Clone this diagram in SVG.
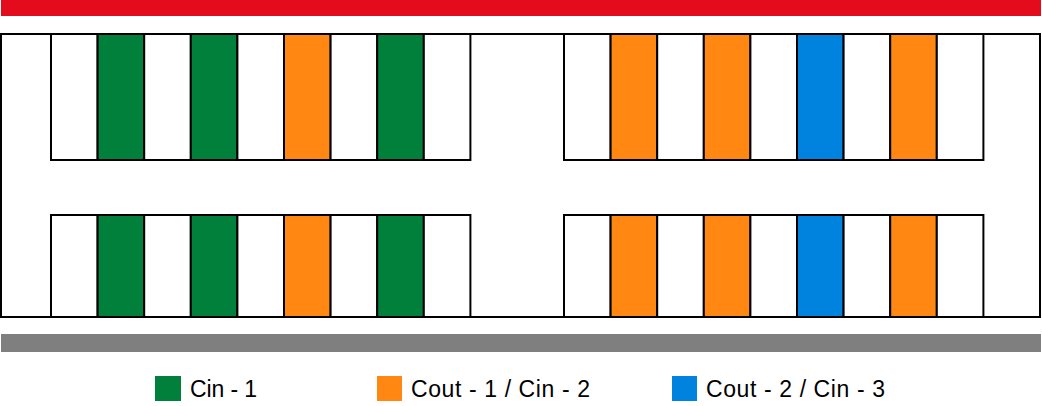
<svg xmlns="http://www.w3.org/2000/svg" width="1042" height="406" viewBox="0 0 1042 406">
<style>
.c{stroke:#000;stroke-width:2;fill:#fff}
.g{fill:#00803a}
.o{fill:#ff8712}
.b{fill:#0083df}
.t{font-family:"Liberation Sans",Arial,sans-serif;font-size:23px;fill:#000}
</style>
<rect width="1042" height="406" fill="#fff"/>
<g id="topbar"><rect x="1" y="0" width="1040" height="16" fill="#e30b1c"/></g>
<g id="frame"><rect class="c" x="1" y="34" width="1039" height="283"/></g>
<g id="block-tl">
<rect class="c" x="51" y="34" width="46.6" height="126"/>
<rect class="c g" x="97.6" y="34" width="46.6" height="126"/>
<rect class="c" x="144.2" y="34" width="46.6" height="126"/>
<rect class="c g" x="190.8" y="34" width="46.6" height="126"/>
<rect class="c" x="237.4" y="34" width="46.6" height="126"/>
<rect class="c o" x="284" y="34" width="46.6" height="126"/>
<rect class="c" x="330.6" y="34" width="46.6" height="126"/>
<rect class="c g" x="377.2" y="34" width="46.6" height="126"/>
<rect class="c" x="423.8" y="34" width="46.6" height="126"/>
</g>
<g id="block-bl">
<rect class="c" x="51" y="215" width="46.6" height="102"/>
<rect class="c g" x="97.6" y="215" width="46.6" height="102"/>
<rect class="c" x="144.2" y="215" width="46.6" height="102"/>
<rect class="c g" x="190.8" y="215" width="46.6" height="102"/>
<rect class="c" x="237.4" y="215" width="46.6" height="102"/>
<rect class="c o" x="284" y="215" width="46.6" height="102"/>
<rect class="c" x="330.6" y="215" width="46.6" height="102"/>
<rect class="c g" x="377.2" y="215" width="46.6" height="102"/>
<rect class="c" x="423.8" y="215" width="46.6" height="102"/>
</g>
<g id="block-tr">
<rect class="c" x="564" y="34" width="46.6" height="126"/>
<rect class="c o" x="610.6" y="34" width="46.6" height="126"/>
<rect class="c" x="657.2" y="34" width="46.6" height="126"/>
<rect class="c o" x="703.8" y="34" width="46.6" height="126"/>
<rect class="c" x="750.4" y="34" width="46.6" height="126"/>
<rect class="c b" x="797" y="34" width="46.6" height="126"/>
<rect class="c" x="843.6" y="34" width="46.6" height="126"/>
<rect class="c o" x="890.2" y="34" width="46.6" height="126"/>
<rect class="c" x="936.8" y="34" width="46.6" height="126"/>
</g>
<g id="block-br">
<rect class="c" x="564" y="215" width="46.6" height="102"/>
<rect class="c o" x="610.6" y="215" width="46.6" height="102"/>
<rect class="c" x="657.2" y="215" width="46.6" height="102"/>
<rect class="c o" x="703.8" y="215" width="46.6" height="102"/>
<rect class="c" x="750.4" y="215" width="46.6" height="102"/>
<rect class="c b" x="797" y="215" width="46.6" height="102"/>
<rect class="c" x="843.6" y="215" width="46.6" height="102"/>
<rect class="c o" x="890.2" y="215" width="46.6" height="102"/>
<rect class="c" x="936.8" y="215" width="46.6" height="102"/>
</g>
<g id="bottombar"><rect x="1" y="334" width="1040" height="18" fill="#7f7f7f"/></g>
<g id="connectors"></g>
<g id="legend-cin1">
<rect class="g" x="155" y="376" width="26" height="25"/>
<text class="t" x="190" y="397" textLength="67" lengthAdjust="spacing">Cin - 1</text>
</g>
<g id="legend-cout1">
<rect class="o" x="377" y="376" width="25" height="25"/>
<text class="t" x="411" y="397" textLength="179" lengthAdjust="spacing">Cout - 1 / Cin - 2</text>
</g>
<g id="legend-cout2">
<rect class="b" x="672" y="376" width="25" height="25"/>
<text class="t" x="706" y="397" textLength="179" lengthAdjust="spacing">Cout - 2 / Cin - 3</text>
</g>
</svg>
